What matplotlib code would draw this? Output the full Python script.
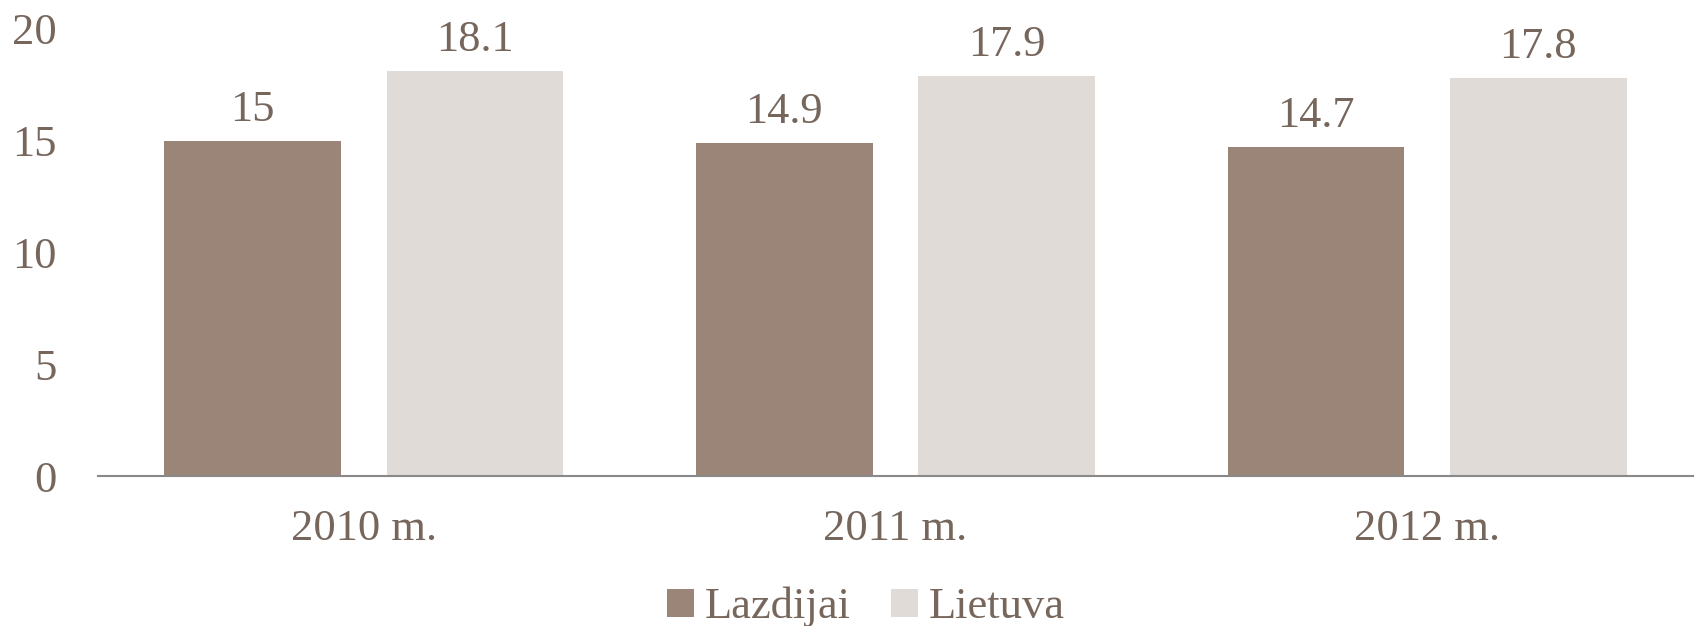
import matplotlib
matplotlib.use("Agg")
import matplotlib.pyplot as plt
import numpy as np
from matplotlib.patches import Patch

categories = ["2010 m.", "2011 m.", "2012 m."]
series_names = ["Lazdijai", "Lietuva"]
lazdijai = [15, 14.9, 14.7]
lietuva = [18.1, 17.9, 17.8]
yticks = [0, 5, 10, 15, 20]

TEXT = "#76665C"
DARK = "#9B8578"
LIGHT = "#E0DBD7"
FONT = ["Liberation Serif", "DejaVu Serif"]
FS = 32

plt.rcParams["font.family"] = FONT

fig = plt.figure(figsize=(16.98, 6.26), dpi=100)
ax = fig.add_axes([98 / 1698, 150 / 626, 1595 / 1698, 447 / 626])

x = np.arange(len(categories))
w = 0.332
off = 0.209
b1 = ax.bar(x - off, lazdijai, width=w, color=DARK, linewidth=0, label=series_names[0])
b2 = ax.bar(x + off, lietuva, width=w, color=LIGHT, linewidth=0, label=series_names[1])

for bars, vals in ((b1, lazdijai), (b2, lietuva)):
    ax.bar_label(bars, labels=[f"{v:g}" for v in vals], padding=8,
                 fontsize=FS, color=TEXT)

ax.set_xlim(-0.5, len(categories) - 0.5)
ax.set_ylim(0, 20)
ax.set_yticks(yticks)
ax.set_yticklabels([str(t) for t in yticks])
ax.set_xticks(x)
ax.set_xticklabels(categories)
ax.tick_params(axis="y", length=0, pad=30, labelsize=FS, labelcolor=TEXT)
ax.tick_params(axis="x", length=0, pad=24, labelsize=FS, labelcolor=TEXT)

for s in ("top", "right", "left"):
    ax.spines[s].set_visible(False)
ax.spines["bottom"].set_color("#898989")
ax.spines["bottom"].set_linewidth(1.5)

handles = [Patch(facecolor=DARK, linewidth=0), Patch(facecolor=LIGHT, linewidth=0)]
fig.legend(handles, series_names, loc="center", bbox_to_anchor=(0.51, 0.03),
           ncol=2, frameon=False, fontsize=FS, labelcolor=TEXT,
           handlelength=0.6, handleheight=0.6, handletextpad=0.25,
           columnspacing=0.9, borderpad=0, borderaxespad=0)

fig.savefig("out.png", dpi=100)
